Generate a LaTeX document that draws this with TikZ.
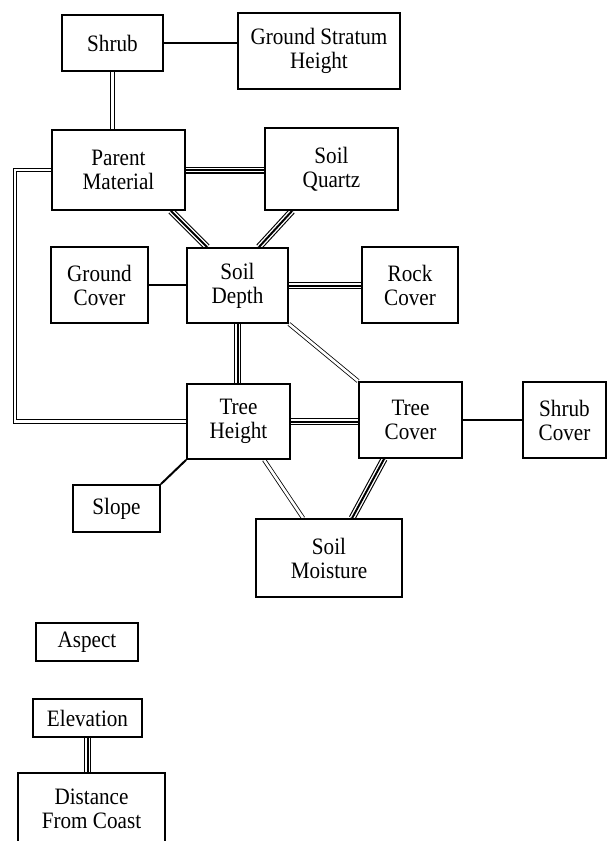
\documentclass[tikz,border=0pt]{standalone}
\usepackage{fontspec}
\setmainfont{Liberation Serif}[FakeStretch=0.9]
\usetikzlibrary{calc,backgrounds}
\begin{document}
\begin{tikzpicture}[x=1pt,y=-1pt,
  box/.style={draw=black, line width=1.8pt, fill=white, inner sep=0pt, align=center,
    font=\fontsize{23.5}{24}\selectfont},
  single/.style={draw=black, line width=2pt},
  dbl/.style={draw=black, double=white, double distance=2.6pt, line width=0.8pt},
  triple/.style={draw=black, line width=7pt, postaction={draw=white, line width=4.8pt}, postaction={draw=black, line width=2pt}}]
\useasboundingbox (0,0) rectangle (608,841);
\node[box, minimum width=101pt, minimum height=56pt] (shrub) at (112.5,43) {Shrub};
\node[box, minimum width=162pt, minimum height=76pt] (gsh) at (319,51) {Ground Stratum\\Height};
\node[box, minimum width=133pt, minimum height=80pt] (pm) at (118.5,170) {Parent\\Material};
\node[box, minimum width=133pt, minimum height=82pt] (sq) at (331.5,169) {Soil\\Quartz};
\node[box, minimum width=97pt, minimum height=76pt] (gc) at (99.5,285) {Ground\\Cover};
\node[box, minimum width=101pt, minimum height=75pt] (sd) at (237.5,285.5) {Soil\\Depth};
\node[box, minimum width=96pt, minimum height=76pt] (rc) at (410,285) {Rock\\Cover};
\node[box, minimum width=103pt, minimum height=75pt] (th) at (238.5,421.5) {Tree\\Height};
\node[box, minimum width=103pt, minimum height=76pt] (tc) at (410.5,420) {Tree\\Cover};
\node[box, minimum width=83pt, minimum height=76pt] (scov) at (564.5,420) {Shrub\\Cover};
\node[box, minimum width=87pt, minimum height=47pt] (slope) at (116.5,508.5) {Slope};
\node[box, minimum width=146pt, minimum height=78pt] (sm) at (329,558) {Soil\\Moisture};
\node[box, minimum width=102pt, minimum height=38pt] (aspect) at (87,642) {Aspect};
\node[box, minimum width=109pt, minimum height=38pt] (elev) at (87.5,718) {Elevation};
\node[box, minimum width=147pt, minimum height=72pt] (dist) at (91.5,809) {Distance\\From Coast};
\coordinate (lc) at (15,0);
\begin{scope}[on background layer]
\draw[single] (shrub.east) -- (shrub.east -| gsh.west);
\draw[dbl] (shrub.south) -- (shrub.south |- pm.north);
\draw[triple] (pm.east) -- (pm.east -| sq.west);
\draw[triple] ($(pm.south east)+(-15,0)$) -- ($(sd.north west)+(21,0)$);
\draw[triple] ($(sq.south west)+(28,0)$) -- ($(sd.north east)+(-30,0)$);
\draw[single] (gc.east) -- (gc.east -| sd.west);
\draw[triple] (sd.east) -- (sd.east -| rc.west);
\draw[triple] (sd.south) -- (sd.south |- th.north);
\draw[dbl] (sd.south east) -- (tc.north west);
\draw[triple] (th.east) -- (th.east -| tc.west);
\draw[single] (tc.east) -- (tc.east -| scov.west);
\draw[single] (th.south west) -- (slope.north east);
\draw[dbl] ($(th.south west)+(78,0)$) -- ($(sm.north west)+(48,0)$);
\draw[triple] ($(tc.south west)+(26,0)$) -- ($(sm.north west)+(97,0)$);
\draw[dbl] (pm.west) -- (pm.west -| lc) |- (th.west);
\draw[triple] (elev.south) -- (elev.south |- dist.north);
\end{scope}
\end{tikzpicture}
\end{document}
